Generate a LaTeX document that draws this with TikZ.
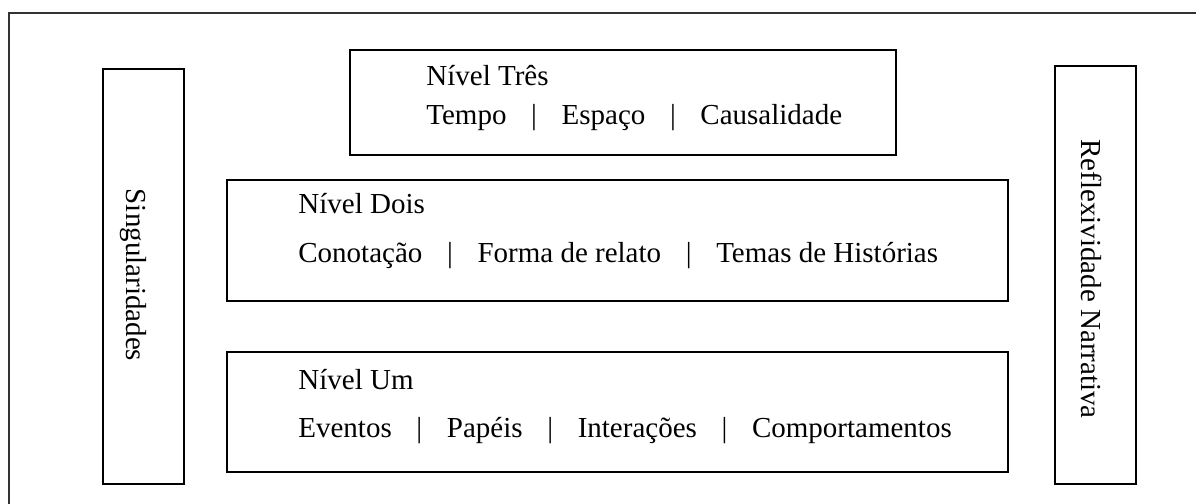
\documentclass[tikz,border=0pt]{standalone}
\usepackage{fontspec}
\setmainfont{Liberation Serif}
\newcommand*{\nivelfont}{\fontsize{14.5}{17}\selectfont\color{black}}
\newcommand*{\barra}{\hspace{0.85em}|\hspace{0.85em}}
\tikzset{
  caixa/.style={draw, line width=0.6pt, inner sep=0pt},
  texto/.style={font=\nivelfont, inner sep=0pt, anchor=base west},
  lateral/.style={font=\nivelfont, inner sep=0pt, rotate=-90}
}

\begin{document}
\begin{tikzpicture}[x=0.5pt, y=-0.5pt]
  \useasboundingbox (0,0) rectangle (1196,504);
  % moldura
  \draw[line width=0.7pt, black!80] (1196,13) -- (9,13) -- (9,504);
  % colunas laterais
  \node[caixa, minimum width=40.5pt, minimum height=207.5pt] (sing) at (143.5,276.5) {};
  \node[caixa, minimum width=40.5pt, minimum height=209pt] (refl) at (1095.5,275) {};
  \node[lateral] (singT) at (133,275) {Singularidades};
  \node[lateral] (reflT) at (1092,279) {Reflexividade Narrativa};
  % niveis
  \node[caixa, minimum width=273pt, minimum height=52.5pt] (tres) at (623,102.5) {};
  \node[caixa, minimum width=390.5pt, minimum height=60.5pt] (dois) at (617.5,240.5) {};
  \node[caixa, minimum width=390.5pt, minimum height=60pt] (um) at (617.5,412) {};
  \node[texto] (tresT) at (426,85) {Nível Três};
  \node[texto] (tresI) at (426,124) {Tempo\barra Espaço\barra Causalidade};
  \node[texto] (doisT) at (298,213) {Nível Dois};
  \node[texto] (doisI) at (298,262) {Conotação\barra Forma de relato\barra Temas de Histórias};
  \node[texto] (umT) at (298,389) {Nível Um};
  \node[texto] (umI) at (298,437) {Eventos\barra Papéis\barra Interações\barra Comportamentos};
\end{tikzpicture}
\end{document}
